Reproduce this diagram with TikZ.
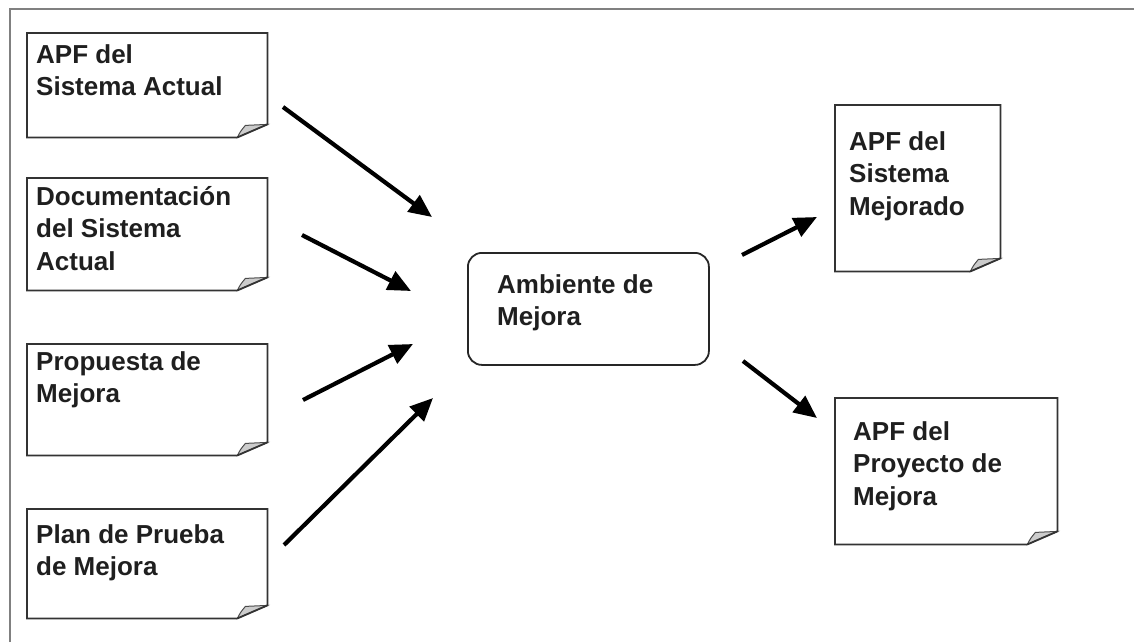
\documentclass[tikz,border=0pt]{standalone}
\usepackage{fontspec}
\setmainfont{Liberation Sans}
\usetikzlibrary{arrows.meta}
\newcommand\docframe[1]{%
  \filldraw[doccurl] ([xshift=-30pt]#1.south east) .. controls ([xshift=-27pt,yshift=6pt]#1.south east) .. ([xshift=-22pt,yshift=12pt]#1.south east) -- ([yshift=13pt]#1.south east) -- cycle;
  \draw[docline] ([xshift=-30pt]#1.south east) -- (#1.south west) -- (#1.north west) -- (#1.north east) -- ([yshift=13pt]#1.south east) -- ([xshift=-30pt]#1.south east);
}
\begin{document}
\begin{tikzpicture}[x=1pt,y=-1pt,
  docbox/.style={draw=none,inner sep=0,anchor=north west},
  docline/.style={draw=black!80,line width=1.8pt,line join=miter},
  doccurl/.style={draw=black!70,fill=black!20,line width=1pt},
  lbl/.style={align=left,inner sep=0,anchor=north west,text=black!88,
    font=\fontsize{26}{32.5}\selectfont\bfseries},
  proc/.style={draw=black!85,line width=1.8pt,rounded corners=14pt,inner sep=0,anchor=north west},
  flow/.style={line width=4.2pt,-{Triangle[length=23pt,width=20pt]}},
  frame/.style={draw=black!50,line width=2pt}]
\useasboundingbox (0,0) rectangle (1134,642);
\draw[frame] (9.5,642) -- (9.5,9.5) -- (1134,9.5);

% input documents
\node[docbox,minimum width=240pt,minimum height=104pt] (b1) at (27,33) {};
\node[docbox,minimum width=240pt,minimum height=112pt] (b2) at (27,178) {};
\node[docbox,minimum width=240pt,minimum height=111pt] (b3) at (27,344) {};
\node[docbox,minimum width=240pt,minimum height=109pt] (b4) at (27,509) {};
% outputs
\node[docbox,minimum width=165pt,minimum height=166pt] (r1) at (835,105) {};
\node[docbox,minimum width=222pt,minimum height=146pt] (r2) at (835,398) {};
\docframe{b1}\docframe{b2}\docframe{b3}\docframe{b4}\docframe{r1}\docframe{r2}
% process
\node[proc,minimum width=241pt,minimum height=112pt] (c) at (467,252) {};

% labels
\node[lbl] (t1) at (36,40.25) {\strut APF del\\Sistema Actual};
\node[lbl] (t2) at (36,182.25) {\strut Documentación\\del Sistema\\Actual};
\node[lbl] (t3) at (36,347.25) {\strut Propuesta de\\Mejora};
\node[lbl] (t4) at (36,520.25) {\strut Plan de Prueba\\de Mejora};
\node[lbl] (t5) at (497,270.25) {\strut Ambiente de\\Mejora};
\node[lbl] (t6) at (849,127.25) {\strut APF del\\Sistema\\Mejorado};
\node[lbl] (t7) at (853,417.25) {\strut APF del\\Proyecto de\\Mejora};

% arrows
\coordinate (s1) at (283,107); \coordinate (e1) at (432,217);
\coordinate (s2) at (302,235); \coordinate (e2) at (411,291);
\coordinate (s3) at (303,400); \coordinate (e3) at (413,344);
\coordinate (s4) at (284,545); \coordinate (e4) at (433,398);
\coordinate (s5) at (742,255); \coordinate (e5) at (817,217);
\coordinate (s6) at (743,361); \coordinate (e6) at (817,418);
\draw[flow] (s1) -- (e1);
\draw[flow] (s2) -- (e2);
\draw[flow] (s3) -- (e3);
\draw[flow] (s4) -- (e4);
\draw[flow] (s5) -- (e5);
\draw[flow] (s6) -- (e6);
\end{tikzpicture}
\end{document}
